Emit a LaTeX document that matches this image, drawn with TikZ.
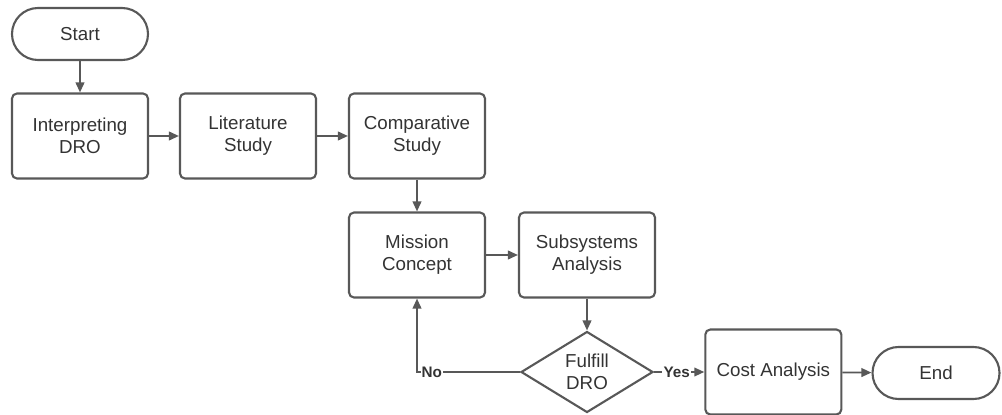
\documentclass[tikz,border=0pt]{standalone}
\usepackage{fontspec}
\setmainfont{Liberation Sans}
\usetikzlibrary{shapes.geometric,arrows.meta,calc}
\definecolor{ink}{HTML}{585858}
\definecolor{txt}{HTML}{333333}
\begin{document}
\begin{tikzpicture}
	\tikzset{boite/.style={draw=ink, line width=1.8pt, rounded corners=0.15cm, minimum width=4.08cm, minimum height=2.55cm, align=center, text=txt, font=\fontsize{16}{19}\selectfont},
		terminal/.style={boite, minimum height=1.56cm, rounded corners=0.78cm},
		losange/.style={draw=ink, line width=1.8pt, diamond, aspect=1.63, minimum width=3.96cm, minimum height=2.43cm, inner sep=0pt, align=center, text=txt, font=\fontsize{16}{19}\selectfont},
		fleche/.style={draw=ink, line width=1.5pt, -{Triangle[length=0.3cm,width=0.26cm]}},
		etiq/.style={text=txt, fill=white, inner sep=1pt, font=\bfseries\fontsize{13}{15}\selectfont}}
	\useasboundingbox (0,0) rectangle (30.06,-12.45);
	\node[terminal] (start) at (2.4,-1.02) {Start};
	\node[boite] (interp) at (2.4,-4.08) {Interpreting\\DRO};
	\node[boite] (lit) at (7.44,-4.08) {Literature\\Study};
	\node[boite] (comp) at (12.51,-4.08) {Comparative\\Study};
	\node[boite] (mission) at (12.51,-7.65) {Mission\\Concept};
	\node[boite] (subsys) at (17.61,-7.65) {Subsystems\\Analysis};
	\node[losange] (fulfill) at (17.61,-11.16) {Fulfill\\DRO};
	\node[boite] (cost) at (23.2,-11.16) {Cost Analysis};
	\node[terminal, minimum width=3.81cm] (finish) at (28.08,-11.19) {End};
	\draw[fleche] (start) -- (interp);
	\draw[fleche] (interp) -- (lit);
	\draw[fleche] (lit) -- (comp);
	\draw[fleche] (comp) -- (mission);
	\draw[fleche] (mission) -- (subsys);
	\draw[fleche] (subsys) -- (fulfill);
	\coordinate (coin) at (mission.south |- fulfill.west);
	\draw[fleche] (fulfill.west) -- (coin) -- (mission.south);
	\node[etiq, anchor=west] (no) at ([xshift=0.1cm]coin) {No};
	\draw[fleche] (fulfill.east) -- (cost.west);
	\node[etiq] (yes) at ($(fulfill.east)!0.45!(cost.west)$) {Yes};
	\draw[fleche] (cost) -- (finish);
\end{tikzpicture}
\end{document}
